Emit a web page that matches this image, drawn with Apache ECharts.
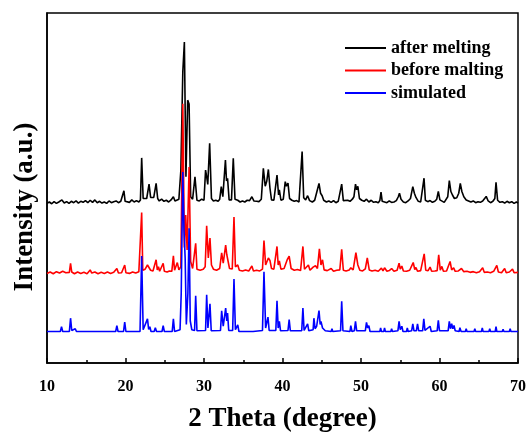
<!DOCTYPE html>
<html>
<head>
<meta charset="utf-8">
<title>XRD</title>
<script src="https://cdn.jsdelivr.net/npm/echarts@6/dist/echarts.min.js"></script>
<style>
  html, body { margin: 0; padding: 0; background: #fff; }
  #chart { width: 531px; height: 436px; }
</style>
</head>
<body>
<div id="chart"></div>
<script>
// x-axis: 2 theta, ticks
const xTicks = [10, 20, 30, 40, 50, 60, 70]
const seriesNames = ['after melting', 'before malting', 'simulated']

// [2theta, intensity] (curves are stacked with offsets)
const afterMelting = [
  [10,45.6],[10.3,46.0],[10.6,45.5],[10.9,46.1],[11.2,45.6],[11.5,46.0],[11.9,46.6],[12.2,45.7],[12.5,46.1],[12.8,45.6],
  [13.1,46.2],[13.4,45.8],[13.7,46.3],[14.0,45.7],[14.3,46.2],[14.6,45.9],[14.9,46.4],[15.2,45.8],[15.5,46.5],[15.8,45.9],
  [16.1,46.6],[16.4,45.8],[16.7,46.2],[17.0,45.7],[17.3,46.0],[17.6,45.6],[17.9,46.3],[18.2,45.8],[18.5,46.1],[18.8,46.3],
  [19.1,45.8],[19.4,46.2],[19.65,46.0],[19.8,49.2],[19.95,46.2],[20.2,46.5],[20.5,45.9],[20.8,46.6],[21.1,46.0],[21.4,46.4],
  [21.7,46.0],[21.9,46.6],[22.06,58.6],[22.25,47.0],[22.5,47.5],[22.7,47.0],[23.0,51.1],[23.2,47.3],[23.4,47.0],[23.6,47.3],
  [23.9,51.3],[24.1,47],[24.3,46.3],[24.6,46.8],[24.9,46.2],[25.2,46.5],[25.5,46.0],[25.8,46.6],[26.1,47.5],[26.3,46.3],
  [26.5,46.5],[26.8,46.8],[27.05,55],[27.3,83.2],[27.5,91.7],[27.7,53.2],[27.92,75.1],[28.1,74],[28.3,47.5],[28.55,46.8],
  [28.85,53.2],[29.1,46.5],[29.4,46.3],[29.7,46.8],[30.0,46.5],[30.2,55.1],[30.35,53],[30.48,51],[30.72,62.8],[30.95,47],
  [31.2,46.3],[31.5,46.5],[31.8,46.2],[32.0,46.8],[32.2,50.4],[32.4,47.5],[32.73,58.0],[32.87,52],[33.0,52.8],[33.2,46.6],
  [33.5,46.6],[33.73,58.5],[33.95,46.8],[34.3,46.5],[34.6,46.0],[34.9,46.3],[35.2,46.0],[35.5,46.5],[35.8,46.4],[36.1,47.5],
  [36.35,46.3],[36.7,46.2],[37.0,46.1],[37.3,46.8],[37.56,55.6],[37.8,50.5],[38.0,52],[38.2,55.3],[38.4,50],[38.6,46.6],
  [38.9,46.5],[39.1,47],[39.3,53.7],[39.5,48],[39.6,49.5],[39.8,46.5],[40.1,46.8],[40.35,51.8],[40.5,50.5],[40.7,51.4],
  [40.9,47.0],[41.2,46.5],[41.5,46.2],[41.8,46.4],[42.1,46.0],[42.3,46.5],[42.5,60.4],[42.7,47.2],[42.95,46.6],[43.2,47.8],
  [43.45,46.4],[43.8,46.0],[44.1,46.5],[44.35,46.8],[44.65,51.3],[44.85,48.5],[45.05,47.8],[45.25,46.5],[45.6,46.0],[45.9,46.3],
  [46.2,45.9],[46.5,46.4],[46.8,45.8],[47.1,46.2],[47.35,46.6],[47.54,51.1],[47.75,46.4],[48.0,46.0],[48.3,46.5],[48.6,46.2],
  [48.9,46.8],[49.1,47.5],[49.3,51.1],[49.45,49.5],[49.6,50.5],[49.8,47],[50.1,46.5],[50.4,46.2],[50.7,46.8],[51.0,46.0],
  [51.3,46.5],[51.6,45.9],[51.9,46.1],[52.2,45.8],[52.4,46.4],[52.55,48.8],[52.7,46.2],[53.0,46.0],[53.3,45.8],[53.6,46.3],
  [53.9,45.9],[54.2,46.0],[54.5,46.4],[54.75,47.5],[54.9,48.5],[55.1,46.8],[55.4,46.0],[55.7,45.8],[56.0,46.3],[56.3,47.0],
  [56.6,50.4],[56.8,48.5],[57.0,47.3],[57.3,46.2],[57.6,46.0],[57.85,46.5],[58.03,52.8],[58.2,46.5],[58.5,46.1],[58.8,46.4],
  [59.1,45.9],[59.4,46.2],[59.65,46.8],[59.85,49.0],[60.05,46.6],[60.3,46.2],[60.6,45.9],[60.85,46.3],[61.05,47.5],[61.25,52.1],
  [61.45,49.0],[61.65,48.0],[61.9,47.0],[62.2,47.2],[62.45,48.5],[62.65,51.3],[62.85,49],[63.1,47.5],[63.4,46.6],[63.7,46.3],
  [64.0,46.0],[64.3,46.3],[64.6,45.8],[64.9,46.1],[65.2,45.9],[65.5,46.3],[65.75,46.8],[65.95,47.6],[66.2,46.3],[66.5,45.8],
  [66.8,46.2],[67.05,47],[67.2,51.6],[67.4,46.5],[67.7,45.9],[68.0,46.1],[68.3,45.7],[68.6,46.2],[68.9,45.8],[69.2,46.1],
  [69.5,45.6],[69.8,46.0],[70,45.7]
]

const beforeMalting = [
  [10,25.6],[10.4,26.0],[10.8,25.5],[11.2,26.1],[11.6,25.7],[12.0,26.2],[12.4,25.8],[12.85,25.9],[13.0,28.5],[13.15,26.0],
  [13.5,25.5],[13.9,26.0],[14.3,25.6],[14.7,25.9],[15.1,25.5],[15.5,26.6],[15.7,25.7],[16.1,26.0],[16.5,25.5],[16.9,25.9],
  [17.3,25.6],[17.7,26.0],[18.1,25.6],[18.5,25.9],[18.9,27.0],[19.1,25.7],[19.5,25.8],[19.75,26.0],[19.9,28.0],[20.05,25.8],
  [20.5,25.6],[20.9,26.0],[21.3,25.7],[21.7,26.1],[21.9,26.2],[22.06,43.0],[22.2,26.5],[22.5,26.8],[22.8,28.0],[23.0,27.8],
  [23.2,26.5],[23.5,26.3],[23.7,26.8],[23.9,29.5],[24.05,26.6],[24.2,27.5],[24.35,26.2],[24.6,26.4],[24.8,28.5],[24.95,26.2],
  [25.3,26.0],[25.6,26.3],[25.9,26.2],[26.1,30.6],[26.25,26.5],[26.45,26.8],[26.6,28.7],[26.8,26.6],[27.05,27.5],[27.3,74.1],
  [27.5,33],[27.67,42.3],[27.85,32.3],[28.1,56],[28.3,29],[28.55,27],[28.8,27],[28.94,34.2],[29.1,26.8],[29.5,26.5],
  [29.9,26.8],[30.15,27.5],[30.34,39.2],[30.55,30],[30.76,35.7],[30.95,28],[31.2,26.8],[31.6,26.5],[32.0,27.0],[32.25,31.5],
  [32.45,28.5],[32.76,33.7],[32.9,31],[33.05,31.0],[33.25,27],[33.6,26.9],[33.82,41.7],[34.0,27.5],[34.3,28.0],[34.5,26.5],
  [34.9,26.3],[35.3,26.6],[35.7,26.3],[36.1,27.7],[36.3,26.3],[36.7,26.5],[37.1,26.3],[37.45,26.8],[37.64,35.0],[37.85,28],
  [38.2,30.0],[38.4,29.3],[38.6,27],[38.9,26.8],[39.3,33.3],[39.45,28],[39.6,29.2],[39.8,26.8],[40.2,27],[40.6,29.5],
  [40.85,30.5],[41.1,27],[41.5,26.5],[41.9,26.7],[42.3,26.4],[42.6,33.3],[42.8,26.8],[43.05,26.6],[43.3,28.0],[43.5,26.5],
  [43.9,27.4],[44.2,27.8],[44.45,27],[44.7,32.6],[44.9,28],[45.1,29.5],[45.3,26.6],[45.7,26.4],[46.2,27.0],[46.5,26.2],
  [46.9,26.5],[47.3,26.6],[47.54,32.5],[47.75,26.5],[48.1,26.3],[48.5,26.6],[48.7,27.2],[49.0,26.6],[49.35,31.5],[49.6,28.0],
  [49.85,26.5],[50.2,26.3],[50.55,26.9],[50.8,30.0],[51.05,26.6],[51.4,26.3],[51.8,26.5],[52.2,26.2],[52.6,27.1],[52.8,26.3],
  [53.0,27.2],[53.3,26.2],[53.6,26.4],[53.9,27.0],[54.2,26.2],[54.6,26.5],[54.85,28.5],[55.0,26.8],[55.2,27.7],[55.4,26.3],
  [55.8,26.2],[56.2,26.5],[56.45,26.6],[56.65,28.7],[56.85,26.7],[57.0,27.3],[57.2,26.2],[57.6,26.4],[57.85,26.4],[58.05,31.2],
  [58.25,26.5],[58.55,26.4],[58.8,27.4],[59.0,26.2],[59.4,26.3],[59.7,26.4],[59.9,30.9],[60.1,26.5],[60.3,27.6],[60.5,26.2],
  [60.9,26.3],[61.15,26.6],[61.35,29.0],[61.55,26.6],[61.8,27.2],[62.0,26.2],[62.4,26.3],[62.8,27.0],[63.1,26.1],[63.5,26.2],
  [63.9,25.9],[64.3,26.1],[64.7,25.8],[65.1,26.1],[65.5,27.2],[65.7,25.9],[66.1,26.0],[66.5,25.8],[66.9,26.2],[67.3,27.9],
  [67.5,26.0],[67.9,25.8],[68.3,27.0],[68.5,25.8],[68.9,26.0],[69.3,26.8],[69.5,25.8],[70,25.9]
]

const simulated = [
  [10,9],[11.7,9],[11.85,10.4],[12.0,9],[12.85,9],[13.0,12.8],[13.15,9.3],[13.6,9.8],[13.75,9],[15.9,9],
  [16.0,9.5],[16.1,9],[18.75,9],[18.9,10.7],[19.05,9],[19.75,9],[19.9,11.7],[20.05,9],[21.85,9],[22.06,30.6],
  [22.25,9.5],[22.8,12.6],[22.95,9.6],[23.1,10.4],[23.25,9],[23.65,9],[23.8,10.1],[23.95,9],[24.65,9],[24.8,10.7],
  [24.95,9],[25.95,9],[26.1,12.6],[26.25,9],[26.95,9.5],[27.1,20],[27.3,54.6],[27.45,38],[27.6,30],[27.75,11],
  [27.95,20],[28.1,38.5],[28.25,12],[28.45,9.5],[28.8,9.3],[28.94,19.2],[29.1,9.2],[30.2,9.3],[30.34,19.5],[30.5,10],
  [30.76,16.9],[30.92,9.2],[32.1,9.3],[32.25,14.9],[32.45,10.5],[32.76,15.7],[32.9,12],[33.0,14.3],[33.15,9.3],[33.65,9.3],
  [33.82,24.0],[34.0,9.5],[34.3,10.9],[34.45,9],[35.95,9],[36.1,9.5],[36.25,9],[37.45,9.3],[37.64,26.1],[37.85,10],
  [38.15,13.1],[38.3,9.3],[39.15,9.3],[39.3,17.8],[39.45,10],[39.6,11.9],[39.75,9.2],[40.7,9.3],[40.85,12.4],[41.0,9.2],
  [42.45,9.2],[42.6,15.7],[42.75,9.3],[43.2,11.2],[43.35,9.2],[43.9,9.5],[44.0,12.8],[44.15,9.8],[44.35,10.5],[44.65,15.0],
  [44.8,11],[44.9,11.9],[45.1,10],[45.3,10.4],[45.45,9.2],[46.2,9],[46.3,9.8],[46.4,9],[47.4,9.2],[47.54,17.6],
  [47.7,9.2],[48.6,9],[48.7,10.7],[48.85,9],[49.15,9.2],[49.3,11.9],[49.45,9.2],[50.55,9.2],[50.7,11.6],[50.85,10],
  [51.0,10.7],[51.15,9],[52.4,9],[52.5,10],[52.6,9],[52.9,9],[53.0,10],[53.1,9],[53.8,9],[53.9,9.8],
  [54.0,9],[54.7,9.2],[54.85,11.9],[55.0,9.5],[55.2,10.5],[55.35,9],[55.8,9],[55.9,10],[56.0,9],[56.45,9.2],
  [56.6,11.2],[56.75,9.2],[57.05,9.2],[57.2,11.2],[57.35,9.2],[57.85,9.2],[58.0,12.6],[58.15,9.3],[58.8,10.5],[58.95,9],
  [59.7,9.2],[59.85,12.2],[60.0,9.2],[61.1,9.2],[61.25,11.9],[61.4,9.8],[61.55,11.2],[61.7,9.8],[61.85,10.7],[62.0,9.2],
  [62.5,9],[62.6,10.1],[62.75,9],[63.3,9],[63.4,9.8],[63.5,9],[64.4,9],[64.5,9.8],[64.6,9],[65.35,9],
  [65.45,10],[65.55,9],[66.3,9],[66.4,9.8],[66.5,9],[67.1,9],[67.2,10.4],[67.3,9],[68.0,9],[68.1,9.6],
  [68.2,9],[68.9,9],[69.0,9.8],[69.1,9],[70,9]
]

const colors = ['#000000', '#ff0000', '#0000ff']
const serif = '"Liberation Serif", "Times New Roman", serif'

const chart = echarts.init(document.getElementById('chart'), null, { renderer: 'canvas' })

const makeLine = (name, data, color) => ({
  name,
  type: 'line',
  data,
  symbol: 'none',
  animation: false,
  lineStyle: { color, width: 1.6 },
  itemStyle: { color }
})

chart.setOption({
  backgroundColor: '#fff',
  animation: false,
  grid: {
    left: 47,
    right: 13,
    top: 13,
    bottom: 73,
    containLabel: false,
    outerBoundsMode: 'none',
    show: true,
    borderColor: '#000',
    borderWidth: 1.5
  },
  legend: {
    orient: 'vertical',
    left: 340,
    top: 32,
    icon: 'rect',
    itemWidth: 41,
    itemHeight: 2,
    itemGap: 0.5,
    data: seriesNames,
    textStyle: {
      fontFamily: serif,
      fontWeight: 'bold',
      fontSize: 18,
      lineHeight: 22,
      color: '#000'
    }
  },
  xAxis: {
    type: 'value',
    min: xTicks[0],
    max: xTicks[xTicks.length - 1],
    interval: 10,
    name: '2 Theta (degree)',
    nameLocation: 'middle',
    nameGap: 43,
    nameTextStyle: {
      fontFamily: serif,
      fontWeight: 'bold',
      fontSize: 27,
      color: '#000'
    },
    axisLine: { lineStyle: { color: '#000', width: 1.5 } },
    axisTick: { inside: true, length: 5, lineStyle: { color: '#000', width: 1.5 } },
    minorTick: { show: true, splitNumber: 2, length: 3, lineStyle: { color: '#000', width: 1.5 } },
    axisLabel: {
      margin: 16,
      fontFamily: serif,
      fontWeight: 'bold',
      fontSize: 16,
      color: '#000'
    },
    splitLine: { show: false }
  },
  yAxis: {
    type: 'value',
    min: 0,
    max: 100,
    axisLine: { show: true, lineStyle: { color: '#000', width: 1.5 } },
    axisTick: { show: false },
    axisLabel: { show: false },
    splitLine: { show: false }
  },
  graphic: [
    {
      type: 'text',
      x: 25,
      y: 207,
      rotation: Math.PI / 2,
      style: {
        text: 'Intensity (a.u.)',
        fontFamily: serif,
        fontWeight: 'bold',
        fontSize: 27,
        fill: '#000',
        align: 'center',
        verticalAlign: 'middle'
      }
    }
  ],
  series: [
    makeLine(seriesNames[0], afterMelting, colors[0]),
    makeLine(seriesNames[1], beforeMalting, colors[1]),
    makeLine(seriesNames[2], simulated, colors[2])
  ]
})
</script>
</body>
</html>
